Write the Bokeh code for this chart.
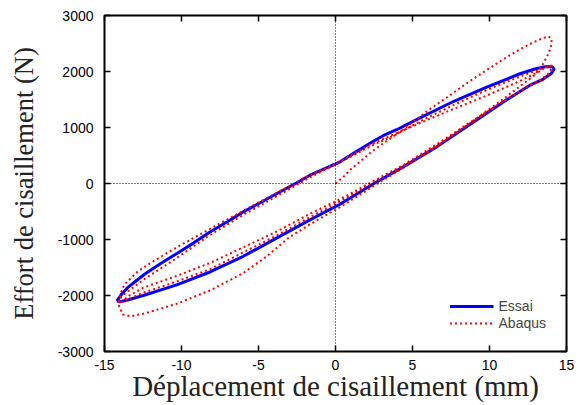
from bokeh.plotting import figure
from bokeh.models import Range1d, LinearAxis, Span, Legend, LegendItem, FixedTicker
from bokeh.embed import file_html
from bokeh.resources import INLINE

# Essai (test) hysteresis loop: displacement (mm) / force (N)
essai_x = [-14.2, -13.9, -13.5, -13.0, -12.4, -11.3, -10.3, -9.2, -8.15, -7.0, -6.0, -4.8, -3.8, -2.6,
           -1.66, 0.3, 1.3, 2.24, 3.2, 3.97, 5.49, 7.65, 9.82, 11.98, 13.0, 13.71, 14.1, 14.2,
           14.0, 13.4, 12.63, 10.9, 8.73, 6.57, 4.4, 2.5, 0.29, -1.66, -3.83, -5.99, -8.15,
           -10.31, -12.48, -13.5, -14.0, -14.2]
essai_y = [-2100, -1980, -1860, -1750, -1620, -1420, -1250, -1060, -866, -680, -509, -330, -179, 0,
           148, 387, 560, 720, 870, 960, 1173, 1464, 1720, 1960, 2050, 2090, 2080, 2040,
           1960, 1850, 1755, 1457, 1054, 654, 297, 0, -370, -650, -975, -1300, -1580,
           -1810, -2000, -2080, -2112, -2100]

# Abaqus simulation: three cycles starting from the origin
abaqus_x = [0, 0.54, 0.97, 1.5, 2.27, 2.9, 3.6, 4.3, 5.0, 6.14, 7.25, 8.73, 10.9, 12.0, 12.63, 13.4, 13.8, 14.0,
            14.05, 13.85, 13.6, 13.38, 12.9, 12.0, 10.9, 8.73, 6.57, 4.4, 2.5, 0.3, -1.66, -3.0, -4.46, -5.99,
            -8.15, -10.31, -12.48, -13.3, -13.8, -14.05,
            -14.05, -13.95, -13.7, -12.8, -11.75, -10.31, -8.15, -5.99, -3.83, -2.6, -1.66, 0.3, 2.24, 3.97,
            5.49, 7.65, 9.82, 11.98, 13.3, 13.9, 14.05,
            14.0, 13.5, 12.63, 10.9, 8.73, 6.57, 4.4, 2.5, 0.3, -1.66, -3.83, -5.99, -8.15, -10.31, -12.48,
            -13.5, -14.0, -14.05,
            -13.9, -13.6, -12.48, -10.31, -8.15, -5.99, -3.83, -1.66, 0.3, 2.24, 3.97, 5.49, 7.65, 9.82,
            11.98, 13.3, 13.9, 14.05,
            13.9, 13.4, 12.63, 10.9, 8.73, 6.57, 4.4, 2.5, 0.3, -1.66, -3.83, -5.99, -8.15, -10.31, -12.48,
            -13.5, -14.0]
abaqus_y = [0, 125, 250, 370, 548, 680, 810, 950, 1090, 1330, 1540, 1830, 2220, 2400, 2490, 2590, 2625, 2600,
            2500, 2330, 2200, 2083, 1930, 1740, 1510, 1080, 660, 280, -40, -420, -730, -960, -1300, -1600,
            -1910, -2148, -2327, -2370, -2340, -2200,
            -2050, -1960, -1800, -1560, -1375, -1140, -810, -485, -170, 10, 150, 400, 690, 900,
            1080, 1330, 1570, 1830, 2010, 2120, 2100,
            1990, 1860, 1740, 1470, 1090, 700, 330, 50, -280, -540, -860, -1140, -1420, -1650, -1860,
            -2020, -2150, -2110,
            -2020, -1950, -1720, -1330, -920, -560, -230, 110, 380, 660, 880, 1110, 1400, 1670,
            1910, 2040, 2110, 2080,
            1980, 1870, 1760, 1470, 1070, 680, 310, 30, -320, -600, -930, -1230, -1530, -1750, -1950,
            -2070, -2120]

x_ticks = [-15, -10, -5, 0, 5, 10, 15]
x_tick_labels = ["-15", "-10", "-5", "0", "5", "10", "15"]
y_ticks = [-3000, -2000, -1000, 0, 1000, 2000, 3000]
y_tick_labels = ["-3000", "-2000", "-1000", "0", "1000", "2000", "3000"]

p = figure(width=583, height=405, output_backend="svg", toolbar_location=None,
           x_range=Range1d(-15, 15), y_range=Range1d(-3000, 3000),
           min_border_left=104, min_border_right=17, min_border_top=15, min_border_bottom=54)
p.grid.visible = False
p.outline_line_color = "black"
p.outline_line_width = 2
p.background_fill_color = "white"
p.border_fill_color = "white"

r_essai = p.line(essai_x, essai_y, line_color="#0000ff", line_width=3)
r_abaqus = p.line(abaqus_x, abaqus_y, line_color="#ff0000", line_width=2, line_dash="2 3")

p.add_layout(Span(location=0, dimension="width", line_color="black", line_width=1, line_dash="1 2"))
p.add_layout(Span(location=0, dimension="height", line_color="black", line_width=1, line_dash="1 2"))

right_axis = LinearAxis()
top_axis = LinearAxis()
p.add_layout(right_axis, "right")
p.add_layout(top_axis, "above")

bottom_axis = p.below[0]
left_axis = p.left[0]

for ax in (bottom_axis, top_axis):
    ax.ticker = FixedTicker(ticks=x_ticks)
for ax in (left_axis, right_axis):
    ax.ticker = FixedTicker(ticks=y_ticks)
for ax in (bottom_axis, top_axis, left_axis, right_axis):
    ax.axis_line_color = None
    ax.major_tick_in = 6
    ax.major_tick_out = 0
    ax.major_tick_line_width = 1.5
    ax.minor_tick_line_color = None
    ax.major_label_text_font = "Liberation Sans"
    ax.major_label_text_font_size = "14px"
    ax.major_label_text_color = "black"

bottom_axis.major_label_overrides = {t: s for t, s in zip(x_ticks, x_tick_labels)}
left_axis.major_label_overrides = {t: s for t, s in zip(y_ticks, y_tick_labels)}
top_axis.major_label_overrides = {t: "" for t in x_ticks}
right_axis.major_label_overrides = {t: "" for t in y_ticks}
top_axis.major_label_standoff = 0
right_axis.major_label_standoff = 0

bottom_axis.axis_label = "Déplacement de cisaillement (mm)"
left_axis.axis_label = "Effort de cisaillement (N)"
for ax in (bottom_axis, left_axis):
    ax.axis_label_text_font = "Liberation Serif"
    ax.axis_label_text_font_style = "normal"
    ax.axis_label_text_color = "#222222"
bottom_axis.axis_label_text_font_size = "29px"
left_axis.axis_label_text_font_size = "26.5px"
bottom_axis.major_label_standoff = 8
bottom_axis.axis_label_standoff = -3
left_axis.major_label_standoff = 11
left_axis.axis_label_standoff = 16

legend = Legend(items=[LegendItem(label="Essai", renderers=[r_essai]),
                       LegendItem(label="Abaqus", renderers=[r_abaqus])],
                location="bottom_right", border_line_color=None, background_fill_alpha=0,
                label_text_font="Liberation Sans", label_text_font_size="14px",
                glyph_width=44, glyph_height=14, label_height=14, spacing=1, padding=4, margin=20)
p.add_layout(legend)

open("out.html", "w").write(file_html(p, INLINE))
